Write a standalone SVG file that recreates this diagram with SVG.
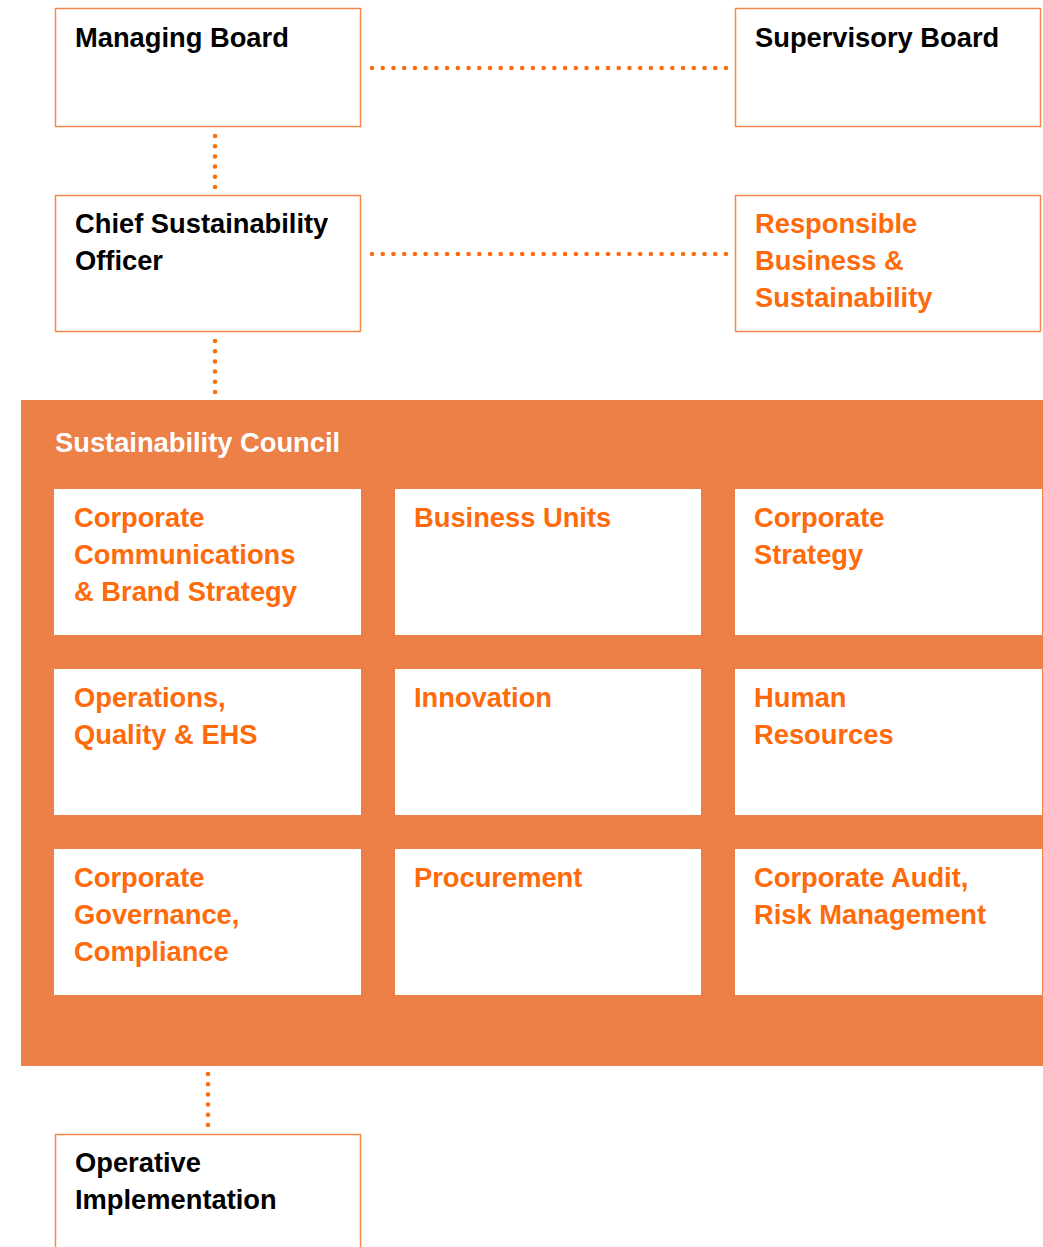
<svg xmlns="http://www.w3.org/2000/svg" width="1043" height="1247" viewBox="0 0 1043 1247">
<style>
.box{fill:#fff;stroke:#F7874A;stroke-width:1.5}
.cell{fill:#fff}
.t{font-family:"Liberation Sans",Arial,sans-serif;font-weight:bold;font-size:27.3px}
.k{fill:#000}
.o{fill:#FF6A0A}
.w{fill:#fff}
.dot{fill:none;stroke:#FF6A0A;stroke-width:4.5;stroke-linecap:round}
</style>
<rect width="1043" height="1247" fill="#fff"/>
<g id="connectors">
<line class="dot" x1="372" y1="68" x2="726" y2="68" stroke-dasharray="0 10.727"/>
<line class="dot" x1="372" y1="254" x2="726" y2="254" stroke-dasharray="0 10.727"/>
<line class="dot" x1="215" y1="136" x2="215" y2="187" stroke-dasharray="0 10.2"/>
<line class="dot" x1="215" y1="341" x2="215" y2="392" stroke-dasharray="0 10.2"/>
<line class="dot" x1="208" y1="1074" x2="208" y2="1125" stroke-dasharray="0 10.2"/>
</g>
<g id="managing-board">
<rect class="box" x="55.5" y="8.5" width="305" height="118"/>
<text class="t k" x="75" y="47">Managing Board</text>
</g>
<g id="supervisory-board">
<rect class="box" x="735.5" y="8.5" width="305" height="118"/>
<text class="t k" x="755" y="47">Supervisory Board</text>
</g>
<g id="cso">
<rect class="box" x="55.5" y="195.5" width="305" height="136"/>
<text class="t k" x="75" y="233">Chief Sustainability</text>
<text class="t k" x="75" y="270">Officer</text>
</g>
<g id="rbs">
<rect class="box" x="735.5" y="195.5" width="305" height="136"/>
<text class="t o" x="755" y="233">Responsible</text>
<text class="t o" x="755" y="270">Business &amp;</text>
<text class="t o" x="755" y="307">Sustainability</text>
</g>
<g id="sustainability-council">
<rect x="21" y="400" width="1022" height="666" fill="#EC8046"/>
<text class="t w" x="55" y="452">Sustainability Council</text>
</g>
<g id="corp-comm">
<rect class="cell" x="54" y="489" width="307" height="146"/>
<text class="t o" x="74" y="527">Corporate</text>
<text class="t o" x="74" y="564">Communications</text>
<text class="t o" x="74" y="601">&amp; Brand Strategy</text>
</g>
<g id="business-units">
<rect class="cell" x="395" y="489" width="306" height="146"/>
<text class="t o" x="414" y="527">Business Units</text>
</g>
<g id="corp-strategy">
<rect class="cell" x="735" y="489" width="307" height="146"/>
<text class="t o" x="754" y="527">Corporate</text>
<text class="t o" x="754" y="564">Strategy</text>
</g>
<g id="operations">
<rect class="cell" x="54" y="669" width="307" height="146"/>
<text class="t o" x="74" y="707">Operations,</text>
<text class="t o" x="74" y="744">Quality &amp; EHS</text>
</g>
<g id="innovation">
<rect class="cell" x="395" y="669" width="306" height="146"/>
<text class="t o" x="414" y="707">Innovation</text>
</g>
<g id="hr">
<rect class="cell" x="735" y="669" width="307" height="146"/>
<text class="t o" x="754" y="707">Human</text>
<text class="t o" x="754" y="744">Resources</text>
</g>
<g id="governance">
<rect class="cell" x="54" y="849" width="307" height="146"/>
<text class="t o" x="74" y="887">Corporate</text>
<text class="t o" x="74" y="924">Governance,</text>
<text class="t o" x="74" y="961">Compliance</text>
</g>
<g id="procurement">
<rect class="cell" x="395" y="849" width="306" height="146"/>
<text class="t o" x="414" y="887">Procurement</text>
</g>
<g id="audit">
<rect class="cell" x="735" y="849" width="307" height="146"/>
<text class="t o" x="754" y="887">Corporate Audit,</text>
<text class="t o" x="754" y="924">Risk Management</text>
</g>
<g id="operative-implementation">
<rect class="box" x="55.5" y="1134.5" width="305" height="120"/>
<text class="t k" x="75" y="1172">Operative</text>
<text class="t k" x="75" y="1209">Implementation</text>
</g>
</svg>
